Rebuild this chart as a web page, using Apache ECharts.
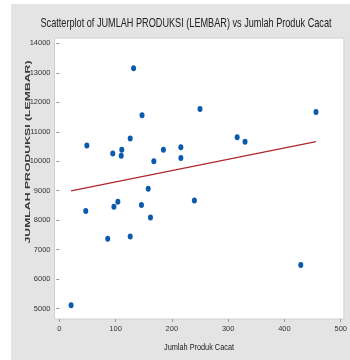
<!DOCTYPE html>
<html>
<head>
<meta charset="utf-8">
<script src="https://cdn.jsdelivr.net/npm/echarts@6/dist/echarts.min.js"></script>
<style>html,body{margin:0;padding:0;background:#fff;}#c{width:350px;height:360px;}</style>
</head>
<body>
<div id="c"></div>
<script>
var cacat = [132, 49, 147, 126, 95, 111, 110, 168, 185, 216, 216, 250, 456, 316, 330, 21, 47, 86, 97, 104, 126, 146, 158, 162, 240, 429];
var produksi = [13150, 10530, 11560, 10770, 10260, 10390, 10190, 10000, 10390, 10475, 10110, 11770, 11670, 10810, 10665, 5115, 8315, 7375, 8460, 8630, 7445, 8520, 9070, 8090, 8665, 6485];
var fitX = [21, 456];
var fitY = [8993, 10665];
var xTicks = [0, 100, 200, 300, 400, 500];
var yTicks = [5000, 6000, 7000, 8000, 9000, 10000, 11000, 12000, 13000, 14000];
var titleText = 'Scatterplot of JUMLAH PRODUKSI (LEMBAR) vs Jumlah Produk Cacat';
var yName = 'JUMLAH PRODUKSI (LEMBAR)';
var xName = 'Jumlah Produk Cacat';

var ctx = document.createElement('canvas').getContext('2d');
function fitScale(text, font, target) { ctx.font = font; return target / ctx.measureText(text).width; }
var titleFont = '13px "Liberation Sans", sans-serif';
var yNameFont = 'bold 8px "Liberation Sans", sans-serif';
var xNameFont = '9.5px "Liberation Sans", sans-serif';

var chart = echarts.init(document.getElementById('c'), null, {renderer: 'canvas'});
chart.setOption({
  animation: false,
  backgroundColor: '#ffffff',
  graphic: [
    {type: 'rect', z: -100, shape: {x: 11, y: 4, width: 339, height: 356}, style: {fill: '#e4e4e4'}},
    {type: 'text', x: 186, y: 23, scaleX: fitScale(titleText, titleFont, 291), style: {text: titleText, font: titleFont, fill: '#222', align: 'center', verticalAlign: 'middle'}},
    {type: 'text', x: 28, y: 152, rotation: Math.PI / 2, scaleX: fitScale(yName, yNameFont, 183), style: {text: yName, font: yNameFont, fill: '#3a3a3a', align: 'center', verticalAlign: 'middle'}},
    {type: 'text', x: 199, y: 347, scaleX: fitScale(xName, xNameFont, 70), style: {text: xName, font: xNameFont, fill: '#222', align: 'center', verticalAlign: 'middle'}}
  ],
  grid: {left: 54.5, top: 38, right: 6, bottom: 41, show: true, backgroundColor: '#ffffff', borderColor: '#cfcfcf', borderWidth: 1},
  xAxis: {
    type: 'value', min: -8.5, max: 505.7,
    axisLine: {show: false}, splitLine: {show: false},
    axisTick: {show: true, length: 3, lineStyle: {color: '#999'}, customValues: xTicks},
    axisLabel: {fontFamily: 'Liberation Sans', fontSize: 7.5, color: '#333', margin: 6, customValues: xTicks, formatter: function (v) { return String(v); }}
  },
  yAxis: {
    type: 'value', min: 4650, max: 14180,
    axisLine: {show: false}, splitLine: {show: false},
    axisTick: {show: true, length: 3, lineStyle: {color: '#999'}, customValues: yTicks},
    axisLabel: {fontFamily: 'Liberation Sans', fontSize: 7.5, color: '#333', margin: 4, customValues: yTicks, formatter: function (v) { return String(v); }}
  },
  series: [
    {type: 'line', data: fitX.map(function (x, i) { return [x, fitY[i]]; }), showSymbol: false, symbol: 'none', lineStyle: {color: '#b0262a', width: 1.2}, z: 2},
    {type: 'scatter', data: cacat.map(function (x, i) { return [x, produksi[i]]; }), symbol: 'circle', symbolSize: [5, 6], itemStyle: {color: '#0a5aad', opacity: 1}, z: 3}
  ]
});
</script>
</body>
</html>
